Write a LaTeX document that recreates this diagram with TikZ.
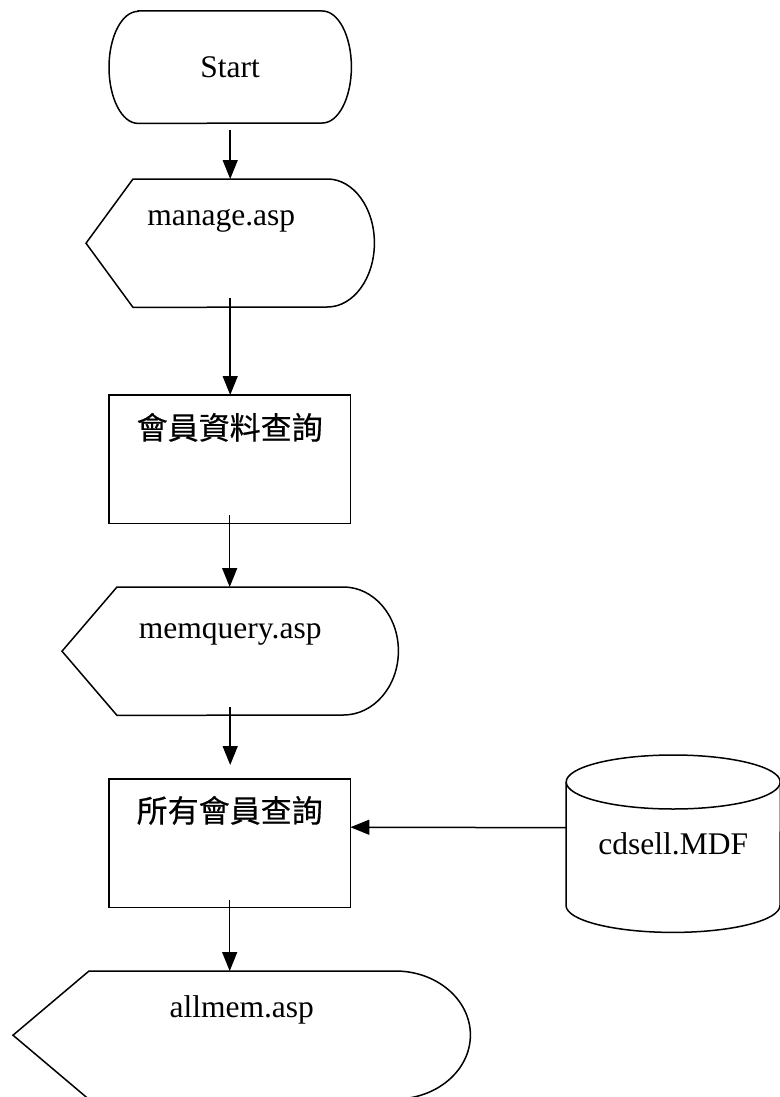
\documentclass[tikz,border=0pt]{standalone}
\usepackage{fontspec}
\setmainfont{Liberation Serif}
\newfontfamily\cjk[FakeBold=0.5]{Noto Sans CJK TC}
\usetikzlibrary{arrows.meta}

\tikzset{
    box/.style={inner sep=0pt, anchor=north west},
    line/.style={line width=1.5pt, line join=miter},
    arr/.style={line width=1.5pt, -{Triangle[width=15pt,length=19pt]}},
}

\begin{document}
\begin{tikzpicture}[x=1pt,y=-1pt,font=\fontsize{31.5}{36}\selectfont]
    \useasboundingbox (0,0) rectangle (779,1097);

    % nodes
    \node[box, minimum width=242pt, minimum height=112pt] (start) at (109,11) {Start};
    \node[box, minimum width=288pt, minimum height=128pt, text height=46pt, text depth=82pt]
        (manage) at (86,179) {manage.asp\hspace*{18pt}};
    \node[box, minimum width=241pt, minimum height=128pt, text height=44pt, text depth=84pt, font=\fontsize{31}{36}\cjk]
        (query) at (109,395) {會員資料查詢};
    \node[box, minimum width=336pt, minimum height=128pt, text height=51pt, text depth=77pt]
        (memquery) at (62,587) {memquery.asp};
    \node[box, minimum width=241pt, minimum height=128pt, text height=43pt, text depth=85pt, font=\fontsize{31}{36}\cjk]
        (allquery) at (109,779) {所有會員查詢};
    \node[box, minimum width=214pt, minimum height=177pt] (db) at (566,755) {cdsell.MDF};
    \node[box, minimum width=457pt, minimum height=128pt, text height=46pt, text depth=82pt]
        (allmem) at (13,971) {allmem.asp};

    % outlines
    \begin{scope}[line]
        \draw ([xshift=29pt]start.north west) -- ([xshift=-29pt]start.north east)
            arc[start angle=90, end angle=-90, x radius=29pt, y radius=56pt]
            -- ([xshift=29pt]start.south west)
            arc[start angle=270, end angle=90, x radius=29pt, y radius=56pt] -- cycle;

        \draw (manage.west) -- ([xshift=47pt]manage.north west) -- ([xshift=-47pt]manage.north east)
            arc[start angle=90, end angle=-90, x radius=47pt, y radius=64pt]
            -- ([xshift=47pt]manage.south west) -- cycle;

        \draw (query.north west) rectangle (query.south east);

        \draw (memquery.west) -- ([xshift=55pt]memquery.north west) -- ([xshift=-55pt]memquery.north east)
            arc[start angle=90, end angle=-90, x radius=55pt, y radius=64pt]
            -- ([xshift=55pt]memquery.south west) -- cycle;

        \draw (allquery.north west) rectangle (allquery.south east);

        \draw ([yshift=-27pt]db.north) ellipse[x radius=107pt, y radius=27pt];
        \draw ([yshift=-27pt]db.north west) -- ([yshift=27pt]db.south west)
            arc[start angle=180, end angle=360, x radius=107pt, y radius=27pt]
            -- ([yshift=-27pt]db.north east);

        \draw (allmem.west) -- ([xshift=76pt]allmem.north west) -- ([xshift=-75pt]allmem.north east)
            arc[start angle=90, end angle=-90, x radius=75pt, y radius=64pt]
            -- ([xshift=76pt]allmem.south west) -- cycle;
    \end{scope}

    % connectors
    \draw[arr, shorten <=7pt] (start.south) -- (manage.north);
    \draw[arr, shorten <=-9pt] (manage.south) -- (manage.south |- query.north);
    \draw[arr, shorten <=-8pt] (query.south) -- (query.south |- memquery.north);
    \draw[arr, shorten <=-8pt, shorten >=14pt] (memquery.south) -- (memquery.south |- allquery.north);
    \draw[arr] ([yshift=16pt]db.west) -- ([yshift=16pt]allquery.east);
    \draw[arr, shorten <=-7pt] (allquery.south) -- (allquery.south |- allmem.north);
\end{tikzpicture}
\end{document}
